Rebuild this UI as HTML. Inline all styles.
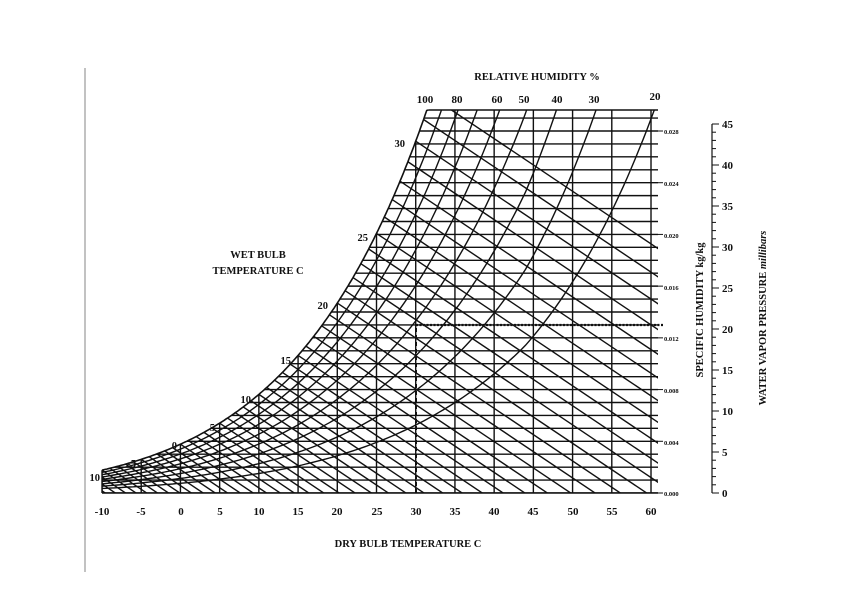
<!DOCTYPE html>
<html><head><meta charset="utf-8"><style>
html,body{margin:0;padding:0;background:#fff;width:848px;height:599px;overflow:hidden;}
svg{display:block;}
text{font-family:"Liberation Serif",serif;font-weight:bold;fill:#111;}
</style></head><body>
<svg id="s" width="848" height="599" viewBox="0 0 848 599" xmlns="http://www.w3.org/2000/svg">
<rect width="848" height="599" fill="#fff"/>
<line x1="85" y1="68" x2="85" y2="572" stroke="#999" stroke-width="1.2"/>
<defs><clipPath id="cp"><polygon id="cpoly" points=""/></clipPath></defs>
<g id="grid" clip-path="url(#cp)" stroke="#111" stroke-width="1.4" fill="none"></g>
<g id="extra" stroke="#111" fill="none"></g>
<text x="537" y="80" font-size="10.5" text-anchor="middle">RELATIVE HUMIDITY %</text>
<g font-size="11" text-anchor="middle">
<text x="425" y="103">100</text><text x="457" y="103">80</text><text x="497" y="103">60</text>
<text x="524" y="103">50</text><text x="557" y="103">40</text><text x="594" y="103">30</text><text x="655" y="100">20</text>
</g>
<g font-size="11" text-anchor="middle">
<text x="102" y="515">-10</text><text x="141" y="515">-5</text><text x="181" y="515">0</text><text x="220" y="515">5</text>
<text x="259" y="515">10</text><text x="298" y="515">15</text><text x="337" y="515">20</text><text x="377" y="515">25</text>
<text x="416" y="515">30</text><text x="455" y="515">35</text><text x="494" y="515">40</text><text x="533" y="515">45</text>
<text x="573" y="515">50</text><text x="612" y="515">55</text><text x="651" y="515">60</text>
</g>
<text x="408" y="547" font-size="10.5" text-anchor="middle">DRY BULB TEMPERATURE  C</text>
<text x="258" y="258" font-size="10.5" text-anchor="middle">WET BULB</text>
<text x="258" y="274" font-size="10.5" text-anchor="middle">TEMPERATURE  C</text>
<g font-size="10.5" text-anchor="end">
<text x="405" y="147">30</text><text x="368" y="241">25</text><text x="328" y="309">20</text><text x="291" y="364">15</text>
<text x="251" y="403">10</text><text x="215" y="431">5</text><text x="177" y="449">0</text><text x="136" y="467">-5</text><text x="100" y="481">10</text>
</g>
<g font-size="6.5" font-weight="normal">
<text x="664" y="134">0.028</text><text x="664" y="186">0.024</text><text x="664" y="238">0.020</text>
<text x="664" y="290">0.016</text><text x="664" y="341">0.012</text><text x="664" y="393">0.008</text>
<text x="664" y="445">0.004</text><text x="664" y="496">0.000</text>
</g>
<text transform="translate(703,310) rotate(-90)" font-size="10.5" text-anchor="middle">SPECIFIC HUMIDITY kg/kg</text>
<text transform="translate(766,318) rotate(-90)" font-size="10.5" text-anchor="middle">WATER VAPOR  PRESSURE <tspan font-style="italic">millibars</tspan></text>
<g font-size="11">
<text x="722" y="128">45</text><text x="722" y="169">40</text><text x="722" y="210">35</text><text x="722" y="251">30</text>
<text x="722" y="292">25</text><text x="722" y="333">20</text><text x="722" y="374">15</text><text x="722" y="415">10</text>
<text x="722" y="456">5</text><text x="722" y="497">0</text>
</g>
<g id="paxis" stroke="#111" stroke-width="1.2"></g>
</svg>
<script>
var NS="http://www.w3.org/2000/svg";
function X(T){return 102+(T+10)*7.843;}
function Y(q){return 493-q*12929;}
function es(T){return 6.112*Math.exp(17.67*T/(T+243.5));}
function qs(T,r){var e=r*es(T);return 0.622*e/(1013-e);}
function qr(T,r){var f=1+Math.max(0,T-44)*0.0075;var e=r*es(T)*f;return 0.622*e/(1013-e);}
function el(p,tag,a){var e=document.createElementNS(NS,tag);for(var k in a)e.setAttribute(k,a[k]);p.appendChild(e);return e;}
var g=document.getElementById('grid'),ex=document.getElementById('extra');
var pts=[],sat=[];
for(var T=-10;T<=40;T+=0.2){var y=Y(qs(T,1));if(y<110){pts.push(X(T).toFixed(1)+",110");sat.push([X(T),110]);break;}pts.push(X(T).toFixed(1)+","+y.toFixed(1));sat.push([X(T),y]);}
pts.push("658,110","658,493","102,493");
document.getElementById('cpoly').setAttribute('points',pts.join(' '));
for(var i=0;i<=29;i++){var y=Y(i*0.001);el(g,'line',{x1:95,y1:y,x2:658,y2:y});}
for(var T=-10;T<=60;T+=5){el(g,'line',{x1:X(T),y1:493,x2:X(T),y2:105});}
for(var r=0.2;r<0.95;r+=0.1){var p=[];for(var T=-10;T<=70;T+=0.5){p.push(X(T).toFixed(1)+","+Y(qr(T,r)).toFixed(1));}el(g,'polyline',{points:p.join(' ')});}
for(var Tw=-25;Tw<=32;Tw++){var q0=qs(Tw,1);var T2=Tw+90;el(g,'line',{x1:X(Tw),y1:Y(q0),x2:X(T2),y2:Y(q0-0.000407*90)});}
el(ex,'polyline',{points:sat.map(function(a){return a[0].toFixed(1)+","+a[1].toFixed(1);}).join(' '),'stroke-width':1.6});
el(ex,'line',{x1:sat[sat.length-1][0],y1:110,x2:658,y2:110,'stroke-width':1.5});
el(ex,'line',{x1:102,y1:493,x2:658,y2:493,'stroke-width':1.6});
el(ex,'line',{x1:102,y1:Y(qs(-10,1)),x2:102,y2:493,'stroke-width':1.4});
for(var i=0;i<=28;i+=4){var y=Y(i*0.001);el(ex,'line',{x1:658,y1:y,x2:663,y2:y,'stroke-width':1});}
el(ex,'line',{x1:416,y1:493,x2:416,y2:325,'stroke-width':2,'stroke-dasharray':'4,3'});
el(ex,'line',{x1:416,y1:325,x2:664,y2:325,'stroke-width':2.2,'stroke-dasharray':'2,1.5'});
var pa=document.getElementById('paxis');
el(pa,'line',{x1:712,y1:124,x2:712,y2:493});
for(var m=0;m<=45;m++){var y=493-m*8.2;var L=(m%5==0)?7:4;el(pa,'line',{x1:712,y1:y,x2:712+L,y2:y,'stroke-width':1});}
</script>
</body></html>
